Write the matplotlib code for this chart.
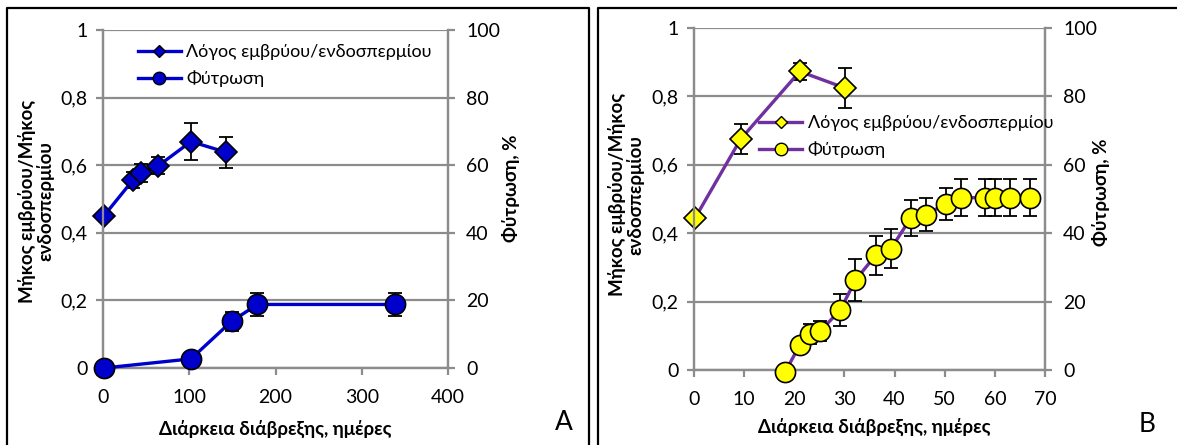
import matplotlib
matplotlib.use("Agg")
import matplotlib.pyplot as plt
from matplotlib.lines import Line2D

plt.rcParams['font.family'] = ['Lato', 'DejaVu Sans']

# panel A
a_ratio_days = [1, 35, 44, 64, 102, 143]
a_ratio = [0.45, 0.557, 0.577, 0.598, 0.67, 0.638]
a_ratio_err = [0.0, 0.023, 0.026, 0.025, 0.056, 0.045]
a_germ_days = [1, 102, 149, 179, 338]
a_germ = [0.0, 2.7, 13.8, 18.8, 18.8]
a_germ_err = [0.0, 0.0, 2.9, 3.5, 3.5]

# panel B
b_ratio_days = [0.2, 9.3, 21.1, 30.2]
b_ratio = [0.444, 0.675, 0.873, 0.824]
b_ratio_err = [0.0, 0.044, 0.025, 0.058]
b_germ_days = [18.2, 21.1, 23.1, 25.2, 29.2, 32.2, 36.2, 39.3, 43.2, 46.2,
               50.2, 53.2, 58.0, 60.0, 63.1, 67.1]
b_germ = [-0.5, 7.3, 10.5, 11.4, 17.6, 26.3, 33.5, 35.5, 44.4, 45.4,
          48.6, 50.4, 50.4, 50.4, 50.4, 50.4]
b_germ_err = [0.0, 0.0, 3.0, 2.9, 4.6, 6.2, 5.6, 5.8, 5.2, 4.8,
              4.7, 5.5, 5.5, 5.5, 5.5, 5.5]

ratio_ticks = [0, 0.2, 0.4, 0.6, 0.8, 1]
ratio_labels = ['0', '0,2', '0,4', '0,6', '0,8', '1']
germ_ticks = [0, 20, 40, 60, 80, 100]

lbl_ratio = 'Λόγος εμβρύου/ενδοσπερμίου'
lbl_germ = 'Φύτρωση'
ylab_left = 'Μήκος εμβρύου/Μήκος\nενδοσπερμίου'
ylab_right = 'Φύτρωση, %'
xlab = 'Διάρκεια διάβρεξης, ημέρες'

W, H = 1177, 445
fig = plt.figure(figsize=(W / 100, H / 100), dpi=100)
GRAY = '#8c8c8c'


def px_axes(x0, x1, ytop, ybot):
    return fig.add_axes([x0 / W, (H - ybot) / H, (x1 - x0) / W, (ybot - ytop) / H])


def panel(ax, xr, xt, rd, r, re, gd, g, ge, line_c, face_c, leg_loc, xl_pos, yl_pos, yr_pos):
    ax2 = ax.twinx()
    ax.set_xlim(*xr)
    ax.set_xticks(xt)
    ax.set_ylim(0, 1)
    ax.set_yticks(ratio_ticks)
    ax.set_yticklabels(ratio_labels)
    ax2.set_ylim(0, 100)
    ax2.set_yticks(germ_ticks)
    for a in (ax, ax2):
        a.patch.set_visible(False)
        for s in a.spines.values():
            s.set_color(GRAY)
            s.set_linewidth(1.6)
        a.spines['top'].set_visible(False)
        a.tick_params(colors=GRAY, labelcolor='black', labelsize=14, length=5, width=1.6)
    ax.tick_params(axis='y', pad=6)
    ax.tick_params(axis='x', pad=10)
    ax2.tick_params(axis='y', pad=8)
    ax.grid(axis='y', color=GRAY, linewidth=1.6)
    ax.set_axisbelow(True)

    ax.errorbar(rd, r, yerr=re, fmt='none', ecolor='black', elinewidth=1.3,
                capsize=5, capthick=1.3, zorder=3)
    ax.plot(rd, r, '-', color=line_c, lw=2.4, marker='D', ms=11.5,
            mfc=face_c, mec='black', mew=1.2, zorder=4, clip_on=False)
    ax2.errorbar(gd, g, yerr=ge, fmt='none', ecolor='black', elinewidth=1.3,
                 capsize=5, capthick=1.3, zorder=3)
    ax2.plot(gd, g, '-', color=line_c, lw=2.4, marker='o', ms=14.5,
             mfc=face_c, mec='black', mew=1.2, zorder=4, clip_on=False)
    h1l = Line2D([], [], color=line_c, lw=2.4, marker='D', ms=6.5, mfc=face_c,
                 mec='black', mew=1.0)
    h2l = Line2D([], [], color=line_c, lw=2.4, marker='o', ms=9, mfc=face_c,
                 mec='black', mew=1.0)
    ax2.legend([h1l, h2l], [lbl_ratio, lbl_germ], loc='upper left',
               bbox_to_anchor=leg_loc, frameon=False, fontsize=13,
               handlelength=2.4, handletextpad=0.3, labelspacing=0.55,
               borderaxespad=0, borderpad=0)

    ax.set_xlabel(xlab, fontsize=13.5, fontweight='bold')
    ax.xaxis.set_label_coords(*xl_pos)
    ax.set_ylabel(ylab_left, fontsize=13.5, fontweight='bold', linespacing=1.05)
    ax.yaxis.set_label_coords(*yl_pos)
    ax2.set_ylabel(ylab_right, fontsize=13.5, fontweight='bold', rotation=90)
    ax2.yaxis.set_label_coords(*yr_pos)
    return ax2


axA = px_axes(103, 448, 30, 368)
panel(axA, (0, 400), [0, 100, 200, 300, 400], a_ratio_days, a_ratio, a_ratio_err,
      a_germ_days, a_germ, a_germ_err, '#0000CC', '#0000CC',
      (0.1, 0.958), (0.5, -0.154), (-0.14, 0.494), (1.157, 0.533))

axB = px_axes(694, 1045, 28, 370)
panel(axB, (0, 70), [0, 10, 20, 30, 40, 50, 60, 70], b_ratio_days, b_ratio, b_ratio_err,
      b_germ_days, b_germ, b_germ_err, '#7030A0', '#FFFF00',
      (0.185, 0.745), (0.513, -0.14), (-0.14, 0.512), (1.134, 0.52))

# panel frames
frame_kw = dict(color='black', lw=1.6, transform=fig.transFigure)
fig.add_artist(Line2D([7 / W, 7 / W, 589 / W, 589 / W], [0, (H - 8) / H, (H - 8) / H, 0], **frame_kw))
fig.add_artist(Line2D([598 / W, 598 / W, 1], [0, (H - 8) / H, (H - 8) / H], **frame_kw))

fig.text(564 / W, (H - 422) / H, 'A', fontsize=19, ha='center', va='center')
fig.text(1147 / W, (H - 424) / H, 'B', fontsize=19, ha='center', va='center')

fig.savefig('out.png', dpi=100)
